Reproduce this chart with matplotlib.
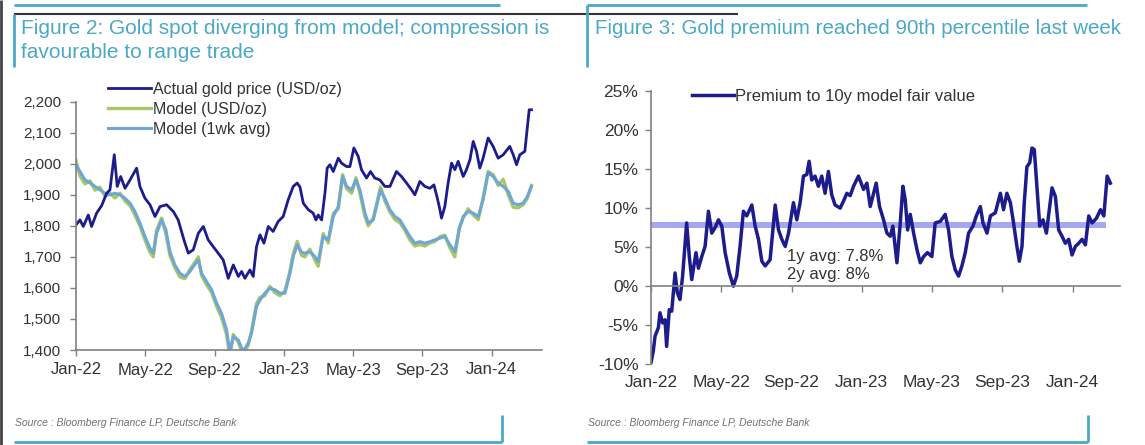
import matplotlib

matplotlib.use("Agg")
import matplotlib.pyplot as plt
from matplotlib.lines import Line2D
from matplotlib.ticker import FuncFormatter

plt.rcParams["font.family"] = ["Liberation Sans", "DejaVu Sans"]

W, H = 1145, 445

NAVY = "#1c1c8c"
GREEN = "#a8c866"
LBLUE = "#6ea6d6"
TEAL = "#4aa8c8"
BAND = "#a6a6f2"
AXIS = "#808080"
TXT = "#333333"

# x values are months since Jan-22
month_ticks = [0, 4, 8, 12, 16, 20, 24]
month_labels = ["Jan-22", "May-22", "Sep-22", "Jan-23", "May-23", "Sep-23", "Jan-24"]

# Figure 2: actual gold price (USD/oz)
gold_t = [0, 0.23, 0.42, 0.71, 0.9, 1.19, 1.48, 1.77, 1.96, 2.21,
          2.38, 2.58, 2.83, 3.12, 3.5, 3.69, 3.98, 4.27, 4.56, 4.85,
          5.23, 5.62, 5.9, 6.23, 6.48, 6.77, 7.06, 7.35, 7.63, 7.92,
          8.21, 8.5, 8.79, 9.08, 9.37, 9.56, 9.75, 10.04, 10.23, 10.42,
          10.62, 10.85, 11.1, 11.38, 11.67, 11.96, 12.25, 12.54, 12.77, 12.93,
          13.12, 13.41, 13.69, 13.85, 13.98, 14.18, 14.37, 14.5, 14.66, 14.85,
          15.14, 15.33, 15.62, 15.81, 16.04, 16.29, 16.48, 16.77, 17.0, 17.25,
          17.54, 17.83, 18.12, 18.5, 18.79, 19.08, 19.37, 19.56, 19.85, 20.14,
          20.43, 20.66, 20.81, 20.97, 21.1, 21.29, 21.48, 21.68, 21.87, 22.06,
          22.35, 22.54, 22.74, 22.93, 23.12, 23.31, 23.5, 23.79, 24.08, 24.37,
          24.66, 25.04, 25.24, 25.43, 25.62, 25.91, 26.16, 26.29]
gold_px = [1803, 1819, 1798, 1835, 1798, 1841, 1865, 1905, 1916, 2029,
           1927, 1959, 1921, 1948, 1986, 1927, 1889, 1868, 1830, 1862,
           1868, 1846, 1819, 1755, 1712, 1723, 1776, 1798, 1755, 1733,
           1712, 1690, 1631, 1674, 1637, 1653, 1631, 1658, 1637, 1733,
           1771, 1744, 1798, 1782, 1814, 1830, 1884, 1927, 1938, 1925,
           1873, 1852, 1841, 1819, 1835, 1819, 1905, 1986, 1997, 1975,
           2018, 2002, 1991, 1991, 2051, 2024, 1981, 1954, 1975, 1954,
           1948, 1927, 1927, 1975, 1959, 1938, 1916, 1900, 1943, 1927,
           1921, 1932, 1900, 1862, 1825, 1862, 1938, 2002, 1981, 2008,
           1959, 1981, 2013, 2072, 2040, 1986, 2018, 2083, 2056, 2018,
           2029, 2056, 2029, 1997, 2029, 2040, 2174, 2174]

# model (USD/oz) and its 1wk average
model_t = [0, 0.23, 0.52, 0.81, 1.1, 1.38, 1.67, 1.96, 2.25, 2.54,
           2.83, 3.12, 3.4, 3.69, 3.98, 4.27, 4.46, 4.65, 4.94, 5.19,
           5.42, 5.71, 6.0, 6.29, 6.58, 6.77, 7.06, 7.25, 7.54, 7.83,
           8.12, 8.4, 8.69, 8.88, 9.08, 9.37, 9.65, 9.94, 10.13, 10.42,
           10.62, 10.9, 11.19, 11.48, 11.77, 12.06, 12.35, 12.54, 12.77, 13.02,
           13.21, 13.5, 13.79, 13.98, 14.27, 14.56, 14.85, 15.14, 15.39, 15.62,
           15.91, 16.16, 16.39, 16.68, 16.87, 17.16, 17.39, 17.58, 17.83, 18.12,
           18.41, 18.7, 18.99, 19.27, 19.56, 19.85, 20.14, 20.43, 20.72, 21.0,
           21.29, 21.58, 21.87, 22.12, 22.35, 22.64, 22.93, 23.22, 23.5, 23.79,
           24.08, 24.37, 24.66, 24.95, 25.24, 25.52, 25.81, 26.06, 26.29]
model_px = [2010, 1960, 1935, 1945, 1915, 1925, 1895, 1905, 1890, 1905,
            1880, 1865, 1835, 1800, 1755, 1715, 1700, 1785, 1825, 1775,
            1705, 1665, 1635, 1630, 1660, 1675, 1700, 1640, 1610, 1585,
            1540, 1505, 1450, 1380, 1450, 1425, 1385, 1415, 1460, 1550,
            1570, 1575, 1605, 1585, 1575, 1590, 1655, 1710, 1750, 1705,
            1700, 1725, 1690, 1670, 1775, 1745, 1840, 1855, 1965, 1920,
            1905, 1955, 1905, 1830, 1800, 1825, 1880, 1925, 1880, 1845,
            1820, 1810, 1785, 1755, 1735, 1740, 1735, 1745, 1750, 1765,
            1770, 1730, 1700, 1795, 1825, 1855, 1835, 1820, 1890, 1975,
            1965, 1930, 1950, 1900, 1860, 1858, 1868, 1890, 1930]
model_1wk = [1997, 1975, 1948, 1938, 1927, 1916, 1905, 1900, 1905, 1900,
             1889, 1873, 1846, 1809, 1766, 1728, 1712, 1776, 1819, 1787,
             1717, 1674, 1647, 1637, 1653, 1669, 1690, 1647, 1620, 1594,
             1551, 1518, 1465, 1392, 1443, 1432, 1395, 1422, 1454, 1540,
             1561, 1583, 1599, 1594, 1583, 1583, 1647, 1701, 1739, 1715,
             1712, 1717, 1701, 1685, 1766, 1755, 1830, 1862, 1959, 1927,
             1916, 1948, 1916, 1841, 1809, 1819, 1873, 1916, 1889, 1852,
             1830, 1819, 1792, 1766, 1744, 1749, 1744, 1749, 1755, 1760,
             1766, 1739, 1717, 1787, 1830, 1846, 1841, 1830, 1884, 1970,
             1959, 1938, 1927, 1911, 1873, 1868, 1873, 1895, 1927]

# Figure 3: premium to 10y model fair value (%)
prem_t = [0, 0.13, 0.23, 0.42, 0.51, 0.66, 0.8, 0.89, 1.04, 1.18,
          1.37, 1.5, 1.65, 1.8, 2.03, 2.18, 2.32, 2.56, 2.7, 2.89,
          3.08, 3.27, 3.46, 3.65, 3.84, 4.03, 4.22, 4.46, 4.69, 4.88,
          5.07, 5.26, 5.45, 5.74, 5.93, 6.12, 6.31, 6.5, 6.78, 7.07,
          7.26, 7.45, 7.64, 7.83, 8.11, 8.3, 8.49, 8.68, 8.87, 9.0,
          9.15, 9.34, 9.53, 9.72, 9.91, 10.1, 10.29, 10.48, 10.77, 10.96,
          11.15, 11.34, 11.53, 11.81, 12.1, 12.29, 12.48, 12.67, 12.82, 13.01,
          13.24, 13.43, 13.62, 13.77, 14.0, 14.19, 14.34, 14.47, 14.61, 14.76,
          14.95, 15.14, 15.33, 15.52, 15.74, 15.99, 16.18, 16.47, 16.75, 16.94,
          17.13, 17.32, 17.51, 17.7, 17.89, 18.08, 18.33, 18.52, 18.75, 18.9,
          19.13, 19.32, 19.6, 19.89, 20.07, 20.26, 20.46, 20.64, 20.83, 20.97,
          21.12, 21.25, 21.4, 21.56, 21.69, 21.82, 21.98, 22.13, 22.32, 22.51,
          22.7, 22.83, 23.02, 23.21, 23.4, 23.59, 23.78, 23.97, 24.16, 24.35,
          24.54, 24.73, 24.92, 25.11, 25.36, 25.59, 25.78, 25.97, 26.15]
premium = [-9.8, -8.3, -6.4, -5.3, -3.4, -4.7, -4.3, -7.7, -3.0, -3.2,
           1.7, -0.85, -1.7, 1.3, 8.1, 3.8, 0.85, 4.3, 2.3, 3.8,
           5.1, 9.6, 6.8, 7.5, 8.5, 7.7, 4.3, 1.7, 0.0, 1.3,
           5.1, 9.6, 9.0, 10.4, 7.7, 6.0, 3.2, 2.6, 3.4, 10.4,
           7.2, 6.0, 5.1, 6.8, 10.7, 8.5, 10.7, 14.1, 14.3, 16.0,
           13.6, 14.1, 12.8, 14.1, 11.9, 14.7, 11.7, 10.4, 10.0, 10.9,
           11.9, 11.6, 12.8, 14.1, 12.4, 13.2, 10.2, 11.9, 13.2, 10.2,
           8.5, 6.8, 6.4, 7.7, 3.0, 8.1, 12.8, 11.1, 7.2, 9.2,
           6.8, 4.7, 3.0, 3.8, 4.3, 3.8, 8.1, 8.3, 9.2, 7.2,
           3.8, 2.1, 1.3, 2.6, 4.3, 6.8, 7.7, 9.0, 10.2, 8.1,
           6.8, 9.0, 9.4, 11.9, 9.8, 11.9, 10.7, 8.1, 5.1, 3.2,
           5.1, 10.7, 15.3, 15.8, 17.7, 17.5, 12.4, 7.7, 8.5, 6.8,
           10.2, 12.6, 11.5, 7.2, 6.4, 5.5, 6.0, 4.0, 5.1, 5.5,
           6.0, 5.3, 9.0, 8.1, 8.7, 9.8, 9.0, 14.1, 13.2]

avg_1y = 7.8
avg_2y = 8.0
band_end = 25.9


def fx(x):
    return x / W


def fy(y):
    return 1 - y / H


def rule(x0, y0, x1, y1, color, lw):
    fig.add_artist(Line2D([fx(x0), fx(x1)], [fy(y0), fy(y1)], color=color,
                          lw=lw, transform=fig.transFigure, solid_capstyle="butt"))


def style_axes(ax, ysize, xsize):
    for side in ("top", "right"):
        ax.spines[side].set_visible(False)
    for side in ("left", "bottom"):
        ax.spines[side].set_color(AXIS)
        ax.spines[side].set_linewidth(1.2)
    ax.tick_params(direction="out", length=4, width=1, color=AXIS, labelcolor=TXT)
    ax.tick_params(axis="y", labelsize=ysize, pad=6.5)
    ax.tick_params(axis="x", labelsize=xsize, pad=5)


fig = plt.figure(figsize=(W / 100, H / 100), dpi=100)

# left chart
ax1 = fig.add_axes([fx(76), fy(350), fx(542 - 76), (350 - 101.7) / H])
ax1.plot(model_t, model_px, color=GREEN, lw=2.4, label="Model (USD/oz)")
ax1.plot(model_t, model_1wk, color=LBLUE, lw=2.2, label="Model (1wk avg)")
ax1.plot(gold_t, gold_px, color=NAVY, lw=2.0, label="Actual gold price (USD/oz)")
ax1.set_xlim(0, 26.9)
ax1.set_ylim(1400, 2200)
ax1.set_yticks(range(1400, 2201, 100))
ax1.yaxis.set_major_formatter(FuncFormatter(lambda v, p: f"{int(v):,}"))
ax1.set_xticks(month_ticks, month_labels)
style_axes(ax1, 11, 12)
h, l = ax1.get_legend_handles_labels()
ax1.legend([h[2], h[0], h[1]], [l[2], l[0], l[1]], loc="upper left",
           bbox_to_anchor=(fx(108), fy(82)), bbox_transform=fig.transFigure,
           frameon=False, fontsize=11.5, handlelength=2.7, handletextpad=0.1,
           labelspacing=0.3, borderpad=0, borderaxespad=0, labelcolor=TXT)

# right chart
ax2 = fig.add_axes([fx(651), fy(364.3), fx(1120 - 651), (364.3 - 91) / H])
ax2.fill_between([0, band_end], avg_1y - 0.4, avg_2y + 0.2, color=BAND, lw=0)
ax2.plot(prem_t, premium, color=NAVY, lw=2.5, label="Premium to 10y model fair value")
ax2.set_xlim(0, 26.7)
ax2.set_ylim(-10, 25)
ax2.set_yticks(range(-10, 26, 5))
ax2.yaxis.set_major_formatter(FuncFormatter(lambda v, p: f"{int(v)}%"))
style_axes(ax2, 12.5, 12.5)
ax2.tick_params(axis="y", pad=5)
ax2.spines["bottom"].set_position(("data", 0))
ax2.set_xticks(month_ticks)
ax2.tick_params(axis="x", labelbottom=False)
sec = ax2.secondary_xaxis("bottom")
sec.set_xticks(month_ticks, month_labels)
sec.spines["bottom"].set_visible(False)
sec.tick_params(length=0, pad=8, labelsize=12.5, labelcolor=TXT)
ax2.text(7.75, 3.8, f"1y avg: {avg_1y}%", fontsize=12, color=TXT, va="center")
ax2.text(7.75, 1.5, f"2y avg: {avg_2y:g}%", fontsize=12, color=TXT, va="center")
ax2.legend(loc="upper left", bbox_to_anchor=(fx(692), fy(89)),
           bbox_transform=fig.transFigure, frameon=False, fontsize=12,
           handlelength=2.5, handletextpad=0.1, borderpad=0, borderaxespad=0,
           labelcolor=TXT)

# titles and sources
fig.text(fx(21), fy(28), "Figure 2: Gold spot diverging from model; compression is",
         color=TEAL, fontsize=15, va="center")
fig.text(fx(21), fy(52), "favourable to range trade", color=TEAL, fontsize=15, va="center")
fig.text(fx(595), fy(28), "Figure 3: Gold premium reached 90th percentile last week",
         color=TEAL, fontsize=14.8, va="center")
for x in (15, 588):
    fig.text(fx(x), fy(423), "Source : Bloomberg Finance LP, Deutsche Bank",
             style="italic", fontsize=7.5, color="#707070", va="center")

# panel frames
rule(1, 0, 1, 445, "#444444", 2)
rule(14, 5, 500, 5, TEAL, 2)
rule(587, 5, 1087, 5, TEAL, 2)
rule(14, 14, 738, 14, "#333333", 1.5)
rule(14, 14, 14, 67, TEAL, 2)
rule(587, 5, 587, 67, TEAL, 2)
rule(14, 442, 502, 442, TEAL, 2)
rule(502, 415, 502, 442, TEAL, 2)
rule(587, 442, 1088, 442, TEAL, 2)
rule(1088, 415, 1088, 442, TEAL, 2)

fig.savefig("out.png", dpi=100)
